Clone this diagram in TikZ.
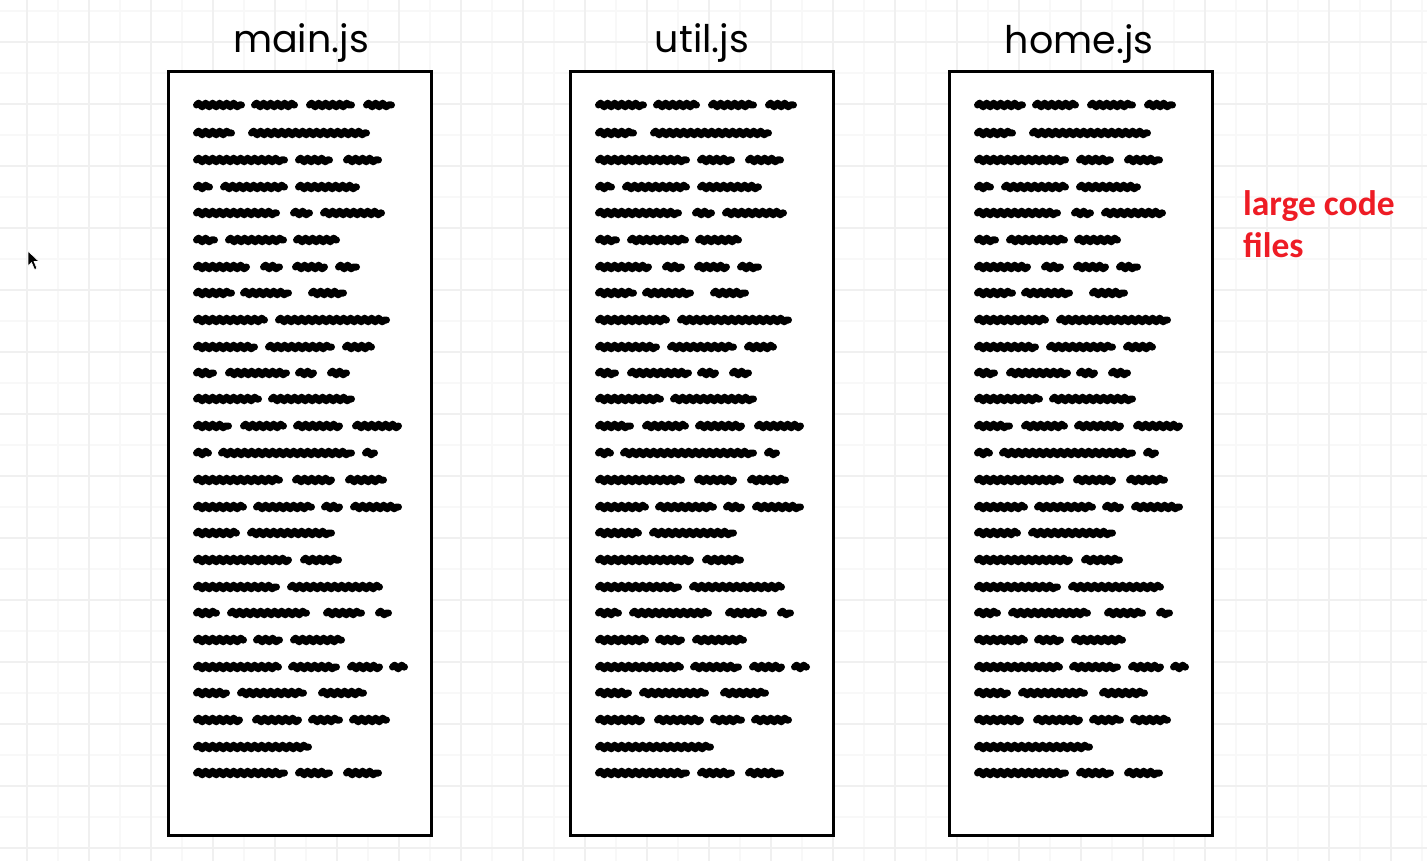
\documentclass[tikz,border=0pt]{standalone}
\usepackage{fontspec}
\setmainfont{Poppins}
\newfontfamily\redfont{Carlito}
\usetikzlibrary{decorations.pathmorphing}
\definecolor{gridmajor}{HTML}{F0F0F0}
\definecolor{gridminor}{HTML}{F8F8F8}
\definecolor{notered}{HTML}{EE1C25}
\tikzset{
  minorline/.style={draw=gridminor, line width=1.2pt},
  majorline/.style={draw=gridmajor, line width=1.8pt},
  filebox/.style={draw=black, line width=3pt, fill=white, minimum width=263pt, minimum height=764pt, inner sep=0pt, outer sep=0pt, anchor=north west},
  filetitle/.style={font=\fontsize{38}{40}\selectfont, anchor=base, inner sep=0pt},
  scrib/.style={line width=7pt, line cap=round, line join=round, decorate, decoration={snake, amplitude=1.8pt, segment length=7pt}},
  notelabel/.style={font=\redfont\bfseries\fontsize{35.5}{42}\selectfont, text=notered, align=left, anchor=north west, inner sep=0pt}
}
\begin{document}
\begin{tikzpicture}[x=1pt, y=-1pt]
\useasboundingbox (0,0) rectangle (1427,861);
\fill[white] (0,0) rectangle (1427,861);
% grid
\foreach \k in {0,...,46} { \draw[minorline] ({-4+31*\k},0) -- ({-4+31*\k},861); }
\foreach \k in {0,...,28} { \draw[minorline] (0,{-20+31*\k}) -- (1427,{-20+31*\k}); }
\foreach \k in {0,...,23} { \draw[majorline] ({27+62*\k},0) -- ({27+62*\k},861); }
\foreach \k in {0,...,14} { \draw[majorline] (0,{-20+62*\k}) -- (1427,{-20+62*\k}); }
% cursor
\filldraw[fill=black, draw=white, line width=0.6pt] (28,251) -- (28,266) -- (31.5,262.5) -- (34.5,269.5) -- (37,268.5) -- (34,261.5) -- (39,261.5) -- cycle;
% boxes
\node[filebox] (mainbox) at (168.5,71.5) {};
\node[filebox] (utilbox) at (570.5,71.5) {};
\node[filebox] (homebox) at (949.5,71.5) {};
\node[filetitle] (maintitle) at (301,53) {main.js};
\node[filetitle] (utiltitle) at (702,53) {util.js};
\node[filetitle] (hometitle) at (1079,54) {home.js};
% scribbled code
\foreach \dx in {0,402,781} {
\foreach \y/\ws in {
105/{193/245,251/298,306/355,363/395},
133/{193/235,248/370},
160/{193/288,295/333,343/382},
187/{193/213,220/288,295/360},
213/{193/280,290/313,320/385},
240/{193/218,225/287,293/340},
267/{193/250,260/283,292/328,335/360},
293/{193/235,240/292,308/347},
320/{193/268,275/390},
347/{193/258,265/335,342/375},
373/{193/217,225/290,295/317,327/350},
399/{193/262,268/355},
426/{193/232,240/287,293/343,352/402},
453/{193/212,218/355,362/378},
480/{193/283,292/335,345/387},
507/{193/247,253/315,321/343,350/402},
533/{193/240,247/335},
560/{193/292,300/342},
587/{193/280,287/383},
613/{193/220,227/310,323/365,375/392},
640/{193/247,253/283,290/345},
667/{193/282,288/340,347/383,389/408},
693/{193/230,237/307,318/367},
720/{193/243,252/302,308/343,349/390},
747/{193/312},
773/{193/288,295/333,343/382}} {
  \foreach \a/\b in \ws { \draw[scrib] ({\a+\dx+3.5},\y) -- ({\b+\dx-3.5},\y); }
}}
% note
\node[notelabel] (note) at (1243,190.5) {large code\\files};
\end{tikzpicture}
\end{document}
